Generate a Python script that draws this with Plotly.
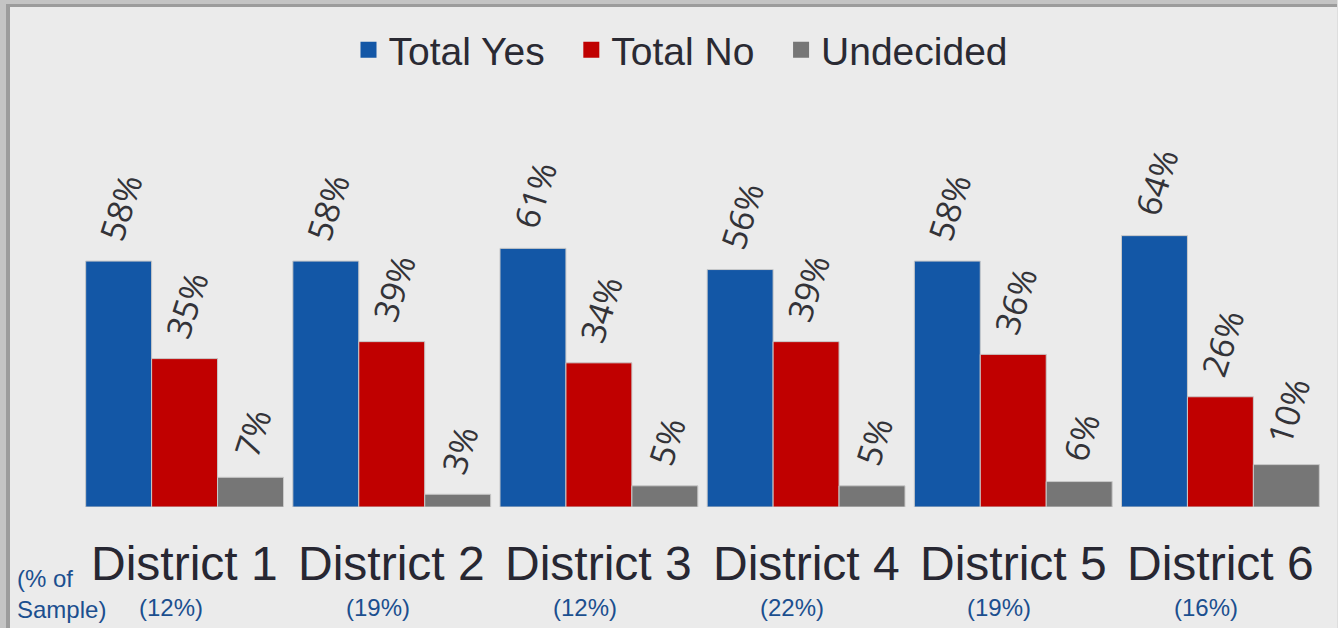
import plotly.graph_objects as go

districts = ["District 1", "District 2", "District 3", "District 4", "District 5", "District 6"]
sample_share = ["(12%)", "(19%)", "(12%)", "(22%)", "(19%)", "(16%)"]
total_yes = [58, 58, 61, 56, 58, 64]
total_no = [35, 39, 34, 39, 36, 26]
undecided = [7, 3, 5, 5, 6, 10]

series = [
    ("Total Yes", total_yes, "#1357a6"),
    ("Total No", total_no, "#c00000"),
    ("Undecided", undecided, "#767676"),
]

W, H = 1338, 628
L, R, T, B = 81, 14, 100, 121
pw, ph = W - L - R, H - T - B


def px(p):
    return (p - L) / pw


def py(q):
    return (H - B - q) / ph


fig = go.Figure()
for name, vals, col in series:
    fig.add_trace(go.Bar(
        name=name, x=districts, y=vals, showlegend=False,
        marker=dict(color=col, line=dict(color="#c9c9c9", width=1)),
        # leading spaces lift the rotated label a little off the bar top
        text=[f"\u00a0\u200a{v}%" for v in vals], textposition="outside",
        textangle=-72, cliponaxis=False, constraintext="none",
        textfont=dict(family="Open Sans", size=34, color="#333338"),
    ))
# legend entries with larger square swatches
last = len(series) - 1
for i, (name, vals, col) in enumerate(series):
    fig.add_trace(go.Scatter(
        name=name + ("" if i == last else "\u00a0\u00a0"), x=[None], y=[None], mode="markers",
        marker=dict(symbol="square", size=19, color=col, line=dict(width=0)),
        showlegend=True, hoverinfo="skip",
    ))

annotations = []
for d, s in zip(districts, sample_share):
    annotations.append(dict(x=d, xref="x", y=py(563), yref="paper", text=d,
                            showarrow=False, yanchor="middle",
                            font=dict(family="Liberation Sans", size=48, color="#272732")))
    annotations.append(dict(x=d, xref="x", y=py(607), yref="paper", text=s,
                            showarrow=False, yanchor="middle", xshift=-14,
                            font=dict(family="Liberation Sans", size=24, color="#1b4f8f")))
annotations.append(dict(x=px(15), xref="paper", y=py(594), yref="paper",
                        text="(% of<br>Sample)", showarrow=False, xanchor="left",
                        yanchor="middle", align="left",
                        font=dict(family="Liberation Sans", size=24, color="#1b4f8f")))

shapes = [
    dict(type="rect", xref="paper", yref="paper", x0=px(0), x1=px(W), y0=py(0), y1=py(7),
         fillcolor="#c4c4c4", line=dict(width=0), layer="below"),
    dict(type="rect", xref="paper", yref="paper", x0=px(0), x1=px(W), y0=py(4), y1=py(7),
         fillcolor="#9c9c9c", line=dict(width=0), layer="below"),
    dict(type="rect", xref="paper", yref="paper", x0=px(0), x1=px(10), y0=py(0), y1=py(H),
         fillcolor="#c4c4c4", line=dict(width=0), layer="below"),
    dict(type="rect", xref="paper", yref="paper", x0=px(6), x1=px(10), y0=py(4), y1=py(H),
         fillcolor="#9c9c9c", line=dict(width=0), layer="below"),
    dict(type="rect", xref="paper", yref="paper", x0=px(W - 1), x1=px(W), y0=py(0), y1=py(H),
         fillcolor="#dedede", line=dict(width=0), layer="below"),
]

fig.update_layout(
    width=W, height=H,
    margin=dict(l=L, r=R, t=T, b=B),
    paper_bgcolor="#ebebeb", plot_bgcolor="#ebebeb",
    barmode="group", bargap=0.045, bargroupgap=0,
    xaxis=dict(showticklabels=False, showgrid=False, zeroline=False, showline=False),
    yaxis=dict(range=[0, ph / 4.24], visible=False),
    legend=dict(orientation="h", xref="container", yref="container",
                x=681 / W, y=1 - 50 / H, xanchor="center", yanchor="middle",
                font=dict(family="Liberation Sans", size=39, color="#2a2a33"),
                bgcolor="rgba(0,0,0,0)", itemwidth=30),
    annotations=annotations,
    shapes=shapes,
    showlegend=True,
)

fig.write_html("out.html", config={"displayModeBar": False},
               post_script="document.body.style.margin='0';")
